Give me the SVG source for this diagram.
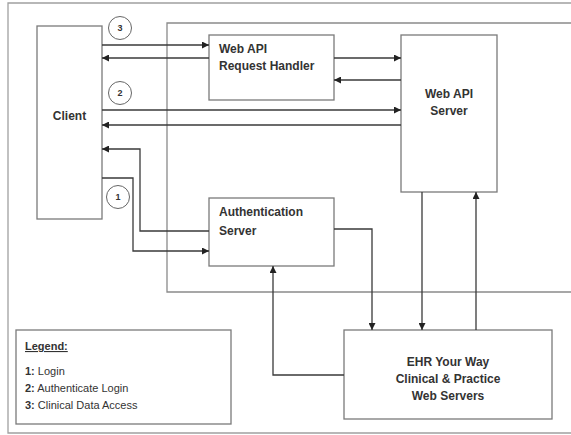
<svg xmlns="http://www.w3.org/2000/svg" width="571" height="435" viewBox="0 0 571 435">
<style>
.frame{fill:none;stroke:#a0a0a0;stroke-width:1.3}
.box{fill:#fff;stroke:#7a7a7a;stroke-width:1.3}
.zone{fill:none;stroke:#8a8a8a;stroke-width:1.3}
.c{fill:none;stroke:#3a3a3a;stroke-width:1.3}
.t{font-family:"Liberation Sans",Arial,sans-serif;font-size:12px;font-weight:bold;fill:#333}
.l{font-family:"Liberation Sans",Arial,sans-serif;font-size:11px;fill:#333}
.n{font-family:"Liberation Sans",Arial,sans-serif;font-size:9px;font-weight:bold;fill:#333;text-anchor:middle}
.num{fill:#fff;stroke:#666;stroke-width:1}
</style>
<defs>
<marker id="ah" viewBox="0 0 10 10" refX="10" refY="5" markerWidth="7" markerHeight="7" markerUnits="userSpaceOnUse" orient="auto">
<path d="M0,0 L10,5 L0,10 z" fill="#222"/>
</marker>
</defs>
<rect width="571" height="435" fill="#fff"/>
<path class="frame" d="M574,3 H8 V433 H574"/>
<path class="zone" d="M574,23 H167 V292 H574"/>

<g id="client"><rect class="box" x="37" y="26" width="65" height="193"/><text class="t" x="69.5" y="120" text-anchor="middle">Client</text></g>
<g id="request-handler"><rect class="box" x="209" y="35" width="125" height="65"/><text class="t" x="219" y="53">Web API</text><text class="t" x="219" y="70">Request Handler</text></g>
<g id="web-api-server"><rect class="box" x="401" y="35" width="96" height="157"/><text class="t" x="449" y="98" text-anchor="middle">Web API</text><text class="t" x="449" y="115" text-anchor="middle">Server</text></g>
<g id="auth-server"><rect class="box" x="209" y="198" width="125" height="68"/><text class="t" x="219" y="216">Authentication</text><text class="t" x="219" y="235">Server</text></g>
<g id="ehr"><rect class="box" x="344" y="330" width="208" height="89"/><text class="t" x="448" y="366" text-anchor="middle">EHR Your Way</text><text class="t" x="448" y="383" text-anchor="middle">Clinical &amp; Practice</text><text class="t" x="448" y="400" text-anchor="middle">Web Servers</text></g>
<g id="legend"><rect class="box" x="16" y="330" width="215" height="94"/>
<text class="l" x="25" y="350" font-weight="bold" text-decoration="underline">Legend:</text>
<text class="l" x="25" y="375"><tspan font-weight="bold">1:</tspan> Login</text>
<text class="l" x="25" y="392"><tspan font-weight="bold">2:</tspan> Authenticate Login</text>
<text class="l" x="25" y="409"><tspan font-weight="bold">3:</tspan> Clinical Data Access</text>
</g>
<g id="step-3"><circle class="num" cx="120" cy="28" r="11.5"/><text class="n" x="120" y="31">3</text></g>
<g id="step-2"><circle class="num" cx="120" cy="93" r="11.5"/><text class="n" x="120" y="96">2</text></g>
<g id="step-1"><circle class="num" cx="118" cy="197" r="11.5"/><text class="n" x="118" y="200">1</text></g>

<g id="connectors">
<path class="c" d="M102,45 H209" marker-end="url(#ah)"/>
<path class="c" d="M209,58 H102" marker-end="url(#ah)"/>
<path class="c" d="M334,58 H401" marker-end="url(#ah)"/>
<path class="c" d="M401,80 H334" marker-end="url(#ah)"/>
<path class="c" d="M102,110 H401" marker-end="url(#ah)"/>
<path class="c" d="M401,125 H102" marker-end="url(#ah)"/>
<path class="c" d="M209,231 H140 V149 H102" marker-end="url(#ah)"/>
<path class="c" d="M102,178 H133 V251 H209" marker-end="url(#ah)"/>
<path class="c" d="M334,229 H372 V330" marker-end="url(#ah)"/>
<path class="c" d="M422,192 V330" marker-end="url(#ah)"/>
<path class="c" d="M476,330 V192" marker-end="url(#ah)"/>
<path class="c" d="M344,375 H273 V266" marker-end="url(#ah)"/>
</g>
</svg>
